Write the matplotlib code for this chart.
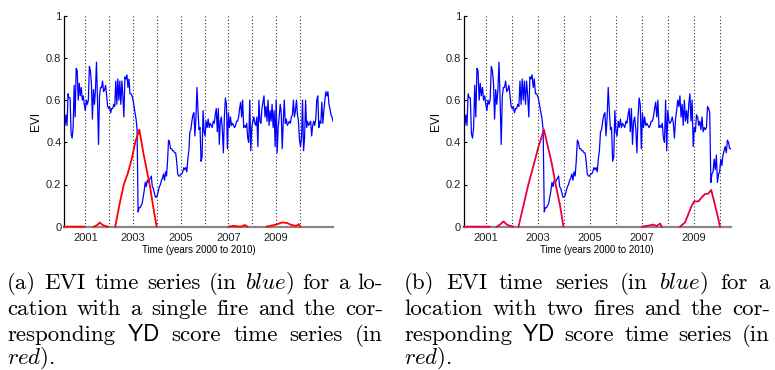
import numpy as np
import matplotlib
matplotlib.use("Agg")
import matplotlib.pyplot as plt

nan = np.nan

# EVI readings, 16-day steps, shared by both locations until end of 2007
evi_common = [
    0.49, 0.48, 0.53, 0.48, 0.63, 0.61, 0.61, 0.44, 0.42, 0.47, 0.67, 0.52,
    0.75, 0.74, 0.60, 0.68, 0.62, 0.66, 0.60, 0.62, 0.58, 0.55, 0.60, 0.58,
    0.60, 0.76, 0.74, 0.68, 0.51, 0.65, 0.58, 0.65, 0.78, 0.60, 0.39,
    0.62, 0.66, 0.66, 0.69, 0.64, 0.65, 0.67, 0.62, 0.57, 0.56, 0.57, 0.54,
    0.56, 0.56, 0.58, 0.57, 0.69, 0.58, 0.70, 0.60, 0.69, 0.58, 0.69, 0.62,
    0.52, 0.71, 0.70, 0.72, 0.66, 0.70, 0.63, 0.63, 0.62, 0.60, 0.57, 0.54,
    0.51,
    0.46, 0.07, 0.09, 0.09, 0.10, 0.11, 0.14, 0.17, 0.21, 0.19, 0.22, 0.21,
    0.22, 0.23, 0.24, 0.19, 0.18, 0.16, 0.14, 0.14, 0.15, 0.17, 0.19, 0.20,
    0.22, 0.23, 0.25, 0.22, 0.26, 0.24, 0.31, 0.41, 0.40, 0.37, 0.37, 0.36,
    0.36, 0.35, 0.35, 0.31, 0.25, 0.24, 0.24, 0.25, 0.25, 0.26, 0.28, 0.27,
    0.28, 0.26, 0.32, 0.36, 0.45, 0.46, 0.50, 0.53, 0.54, 0.43, 0.52, 0.66,
    0.55, 0.46, 0.47, 0.31, 0.33, 0.55, 0.45, 0.43, 0.50, 0.47, 0.51, 0.47,
    0.49, 0.48, 0.47, 0.50, 0.49, 0.53, 0.56, 0.45, 0.56, 0.39, 0.50, 0.52,
    0.46, 0.35, 0.52, 0.61, 0.58, 0.37, 0.54, 0.47, 0.52, 0.48, 0.49, 0.48,
    0.47, 0.48, 0.50, 0.50, 0.52, 0.56, 0.59, 0.52, 0.60, 0.47, 0.48, 0.47,
    0.49, 0.42, 0.40, 0.60, 0.36,
]
evi_tail_a = [
    0.47, 0.50, 0.52, 0.49, 0.48, 0.52, 0.38, 0.60, 0.50, 0.49, 0.56, 0.59,
    0.62, 0.52, 0.57, 0.50, 0.60, 0.48, 0.55, 0.50, 0.58, 0.47, 0.55, 0.38,
    0.60, 0.35, 0.47, 0.52, 0.58, 0.54, 0.37, 0.50, 0.60, 0.49, 0.51, 0.48,
    0.49, 0.50, 0.49, 0.52, 0.53, 0.60, 0.52, 0.55, 0.60, 0.53, 0.50, 0.41,
    0.38, 0.42, 0.60, 0.36, 0.42, 0.60, 0.47, 0.50, 0.48, 0.49, 0.50, 0.43,
    0.48, 0.50, 0.48, 0.51, 0.60, 0.62, 0.47, 0.50, 0.49, 0.59, 0.49, 0.55,
    0.60, 0.64, 0.62, 0.64, 0.58, 0.56, 0.53, 0.52, 0.50,
]
evi_tail_b = [
    0.55, 0.50, 0.49, 0.50, 0.52, 0.49, 0.42, 0.51, 0.55, 0.60, 0.57, 0.62,
    0.52, 0.58, 0.48, 0.60, 0.50, 0.55, 0.49, 0.58, 0.63, 0.50, 0.60, 0.38,
    0.47, 0.45, 0.53, 0.52, 0.48, 0.50, 0.46, 0.52, 0.45, 0.47, 0.46, 0.47,
    0.57, 0.56, 0.54, 0.21, 0.25, 0.26, 0.32, 0.27, 0.34, 0.21, 0.25, 0.26,
    0.32, 0.29, 0.34, 0.36, 0.38, 0.35, 0.41, 0.40, 0.37, 0.37,
]
span_a = (2000.10, 2011.39)
span_b = (2000.14, 2010.42)

# YD score knots (nan = no score)
yd_a_t = [2000.10, 2000.97, nan, 2001.35, 2001.50, 2001.60, 2001.70, 2001.80,
          2001.95, nan, 2002.25, 2002.42, 2002.61, 2002.77, 2002.94, 2003.09,
          2003.26, 2003.43, 2003.57, 2003.71, 2003.85, 2003.99, nan, 2007.01,
          2007.22, 2007.50, 2007.70, 2007.80, nan, 2008.60, 2008.80, 2009.00,
          2009.25, 2009.45, 2009.65, 2009.85, 2009.95, 2010.02]
yd_a_v = [0, 0, nan, 0, 0.008, 0.02, 0.01, 0.004, 0, nan, 0, 0.10, 0.20, 0.25,
          0.32, 0.40, 0.46, 0.35, 0.27, 0.19, 0.09, 0, nan, 0, 0.004, 0, 0.008,
          0, nan, 0, 0.005, 0.01, 0.02, 0.018, 0.008, 0.004, 0.012, 0]
yd_b_t = [2000.14, 2001.15, nan, 2001.41, 2001.54, 2001.67, 2001.80, 2001.92,
          2002.05, nan, 2002.25, 2002.44, 2002.63, 2002.85, 2003.02, 2003.23,
          2003.53, 2003.68, 2003.85, 2003.98, nan, 2007.00, 2007.25, 2007.44,
          2007.57, 2007.70, 2007.77, nan, 2008.47, 2008.66, 2008.79, 2008.92,
          2009.01, 2009.18, 2009.31, 2009.43, 2009.56, 2009.67, 2009.82,
          2009.92, 2010.01]
yd_b_v = [0, 0, nan, 0, 0.01, 0.025, 0.01, 0.004, 0, nan, 0, 0.10, 0.20, 0.30,
          0.38, 0.46, 0.30, 0.20, 0.10, 0, nan, 0, 0.005, 0.01, 0.003, 0.015,
          0, nan, 0, 0.02, 0.06, 0.10, 0.12, 0.12, 0.14, 0.155, 0.157, 0.174,
          0.10, 0.05, 0]

year_lines = list(range(2001, 2011))
xticks = [2001, 2003, 2005, 2007, 2009]
yticks = [0, 0.2, 0.4, 0.6, 0.8, 1]
ytick_labels = ["0", "0.2", "0.4", "0.6", "0.8", "1"]

captions = {
    "a": [
        "(a) EVI time series (in $\\mathit{blue}$) for a lo-",
        "cation with a single fire and the cor-",
        "responding $\\mathsf{YD}$ score time series (in",
        "$\\mathit{red}$).",
    ],
    "b": [
        "(b) EVI time series (in $\\mathit{blue}$) for a",
        "location with two fires and the cor-",
        "responding $\\mathsf{YD}$ score time series (in",
        "$\\mathit{red}$).",
    ],
}

plt.rcParams["font.family"] = ["Liberation Sans", "DejaVu Sans"]
plt.rcParams["mathtext.fontset"] = "cm"

W, H = 775, 370
fig = plt.figure(figsize=(W / 100, H / 100), dpi=100)


def px_axes(x0, x1, ytop, ybot):
    return fig.add_axes([x0 / W, 1 - ybot / H, (x1 - x0) / W, (ybot - ytop) / H])


def draw_panel(ax, evi, span, yd_t, yd_v, red):
    t = np.linspace(span[0], span[1], len(evi))
    for yr in year_lines:
        ax.plot([yr, yr], [0, 1], color="#333333", lw=0.8,
                linestyle=(0, (1, 2)), zorder=1)
    ax.plot(t, evi, color="#0000ff", lw=0.9, zorder=2)
    ax.plot(yd_t, yd_v, color=red, lw=1.3, zorder=3, clip_on=False)
    ax.set_xlim(span)
    ax.set_ylim(0, 1)
    ax.set_xticks(xticks)
    ax.set_yticks(yticks)
    ax.set_yticklabels(ytick_labels)
    for s in ["top", "right"]:
        ax.spines[s].set_visible(False)
    ax.spines["bottom"].set_color("#888888")
    ax.spines["bottom"].set_linewidth(1.6)
    ax.spines["left"].set_linewidth(0.9)
    ax.tick_params(axis="x", length=0, pad=4.5, labelsize=8, labelcolor="#222222")
    ax.tick_params(axis="y", direction="in", length=2.5, pad=1.8, labelsize=8,
                   labelcolor="#222222")
    ax.set_xlabel("Time (years 2000 to 2010)", fontsize=7, labelpad=1.5)
    ax.set_ylabel("EVI", fontsize=8.5, labelpad=3)


ax_a = px_axes(64, 333, 15.7, 226.7)
ax_b = px_axes(463.7, 730.7, 15.7, 226.7)
draw_panel(ax_a, evi_common + evi_tail_a, span_a, yd_a_t, yd_a_v, "#ff0000")
draw_panel(ax_b, evi_common + evi_tail_b, span_b, yd_b_t, yd_b_v, "#e8003c")

# justified caption lines, placed word by word
renderer = fig.canvas.get_renderer()
baselines = [289, 315, 341, 364]


def caption(lines, x0, x1):
    for k, line in enumerate(lines):
        words = line.split(" ")
        y = 1 - baselines[k] / H
        texts = [fig.text(0, y, w, fontsize=16.5, family="cmr10", va="baseline")
                 for w in words]
        widths = [tx.get_window_extent(renderer).width for tx in texts]
        if k < len(lines) - 1 and len(words) > 1:
            gap = (x1 - x0 - sum(widths)) / (len(words) - 1)
        else:
            gap = 5.5
        x = x0
        for tx, w in zip(texts, widths):
            tx.set_x(x / W)
            x += w + gap


caption(captions["a"], 7, 383)
caption(captions["b"], 404, 770)

fig.savefig("out.png", dpi=100)
